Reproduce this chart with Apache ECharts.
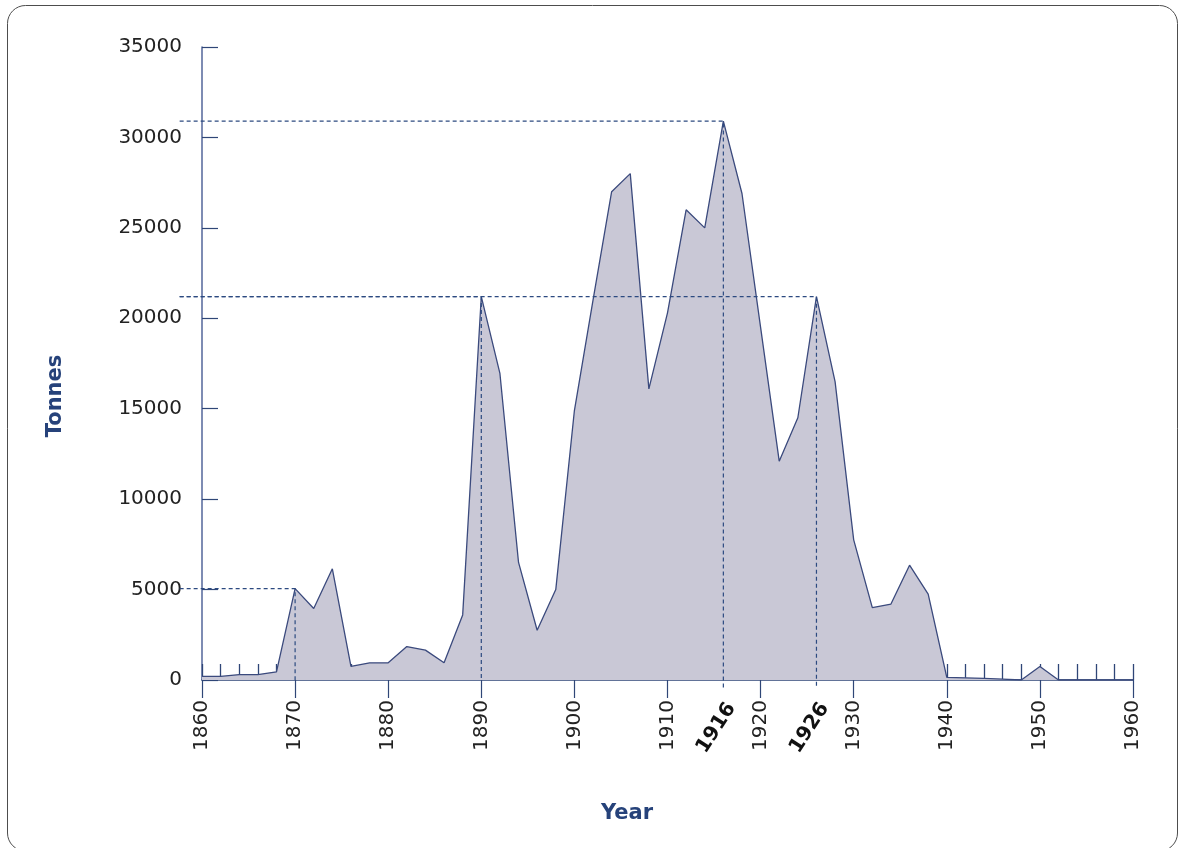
<!DOCTYPE html>
<html>
<head>
<meta charset="utf-8">
<script src="https://cdn.jsdelivr.net/npm/echarts@6/dist/echarts.min.js"></script>
<style>
  html, body { margin: 0; padding: 0; background: #fff; }
  #chart { width: 1179px; height: 848px; }
</style>
</head>
<body>
<div id="chart"></div>
<script>
// production every two years, tonnes
const years = [
  1860, 1862, 1864, 1866, 1868, 1870, 1872, 1874, 1876, 1878,
  1880, 1882, 1884, 1886, 1888, 1890, 1892, 1894, 1896, 1898,
  1900, 1902, 1904, 1906, 1908, 1910, 1912, 1914, 1916, 1918,
  1920, 1922, 1924, 1926, 1928, 1930, 1932, 1934, 1936, 1938,
  1940, 1942, 1944, 1946, 1948, 1950, 1952, 1954, 1956, 1958, 1960
];
const tonnes = [
  200, 200, 300, 300, 450, 5050, 3950, 6150, 750, 950,
  950, 1850, 1650, 950, 3600, 21200, 16950, 6500, 2750, 5000,
  14900, 21000, 27000, 28000, 16100, 20300, 26000, 25000, 30900, 26900,
  19500, 12100, 14500, 21200, 16500, 7750, 4000, 4200, 6350, 4750,
  150, 120, 90, 50, 0, 750, 0, 0, 0, 0, 0
];

// highlighted years (dashed guides), the last two get bold labels
const markYears = [1870, 1890, 1916, 1926];
const markTonnes = [5050, 21200, 30900, 21200];
const boldYears = [1916, 1926];

const yTicks = [0, 5000, 10000, 15000, 20000, 25000, 30000, 35000];

const navy = '#2f4677';
const xMin = 1860, xMax = 1960;
const dashColor = '#2c4a80';

const chart = echarts.init(document.getElementById('chart'));

const option = {
  animation: false,
  grid: { left: 202, right: 46, top: 47, bottom: 168 },
  xAxis: [
    {
      type: 'value', min: xMin, max: xMax, interval: 10, position: 'bottom',
      axisLine: { onZero: false, lineStyle: { color: navy, width: 1.5 } },
      axisTick: { show: true, inside: false, length: 18, lineStyle: { color: navy, width: 1.2 } },
      axisLabel: {
        rotate: 90, margin: 20, fontSize: 20, color: '#222',
        fontFamily: 'DejaVu Sans', formatter: v => String(v)
      },
      splitLine: { show: false }
    },
    {
      type: 'value', min: xMin, max: xMax, interval: 2, position: 'bottom',
      axisLine: { show: false, onZero: false },
      axisTick: { show: true, inside: true, length: 16, lineStyle: { color: navy, width: 1.3 } },
      axisLabel: { show: false },
      splitLine: { show: false }
    }
  ],
  yAxis: {
    type: 'value', min: yTicks[0], max: yTicks[yTicks.length - 1], interval: 5000,
    axisLine: { show: true, lineStyle: { color: '#53669a', width: 1.5 } },
    axisTick: { show: true, inside: true, length: 16, lineStyle: { color: navy, width: 1.2 } },
    axisLabel: {
      margin: 20, fontSize: 20, color: '#222', fontFamily: 'DejaVu Sans',
      formatter: v => String(v)
    },
    splitLine: { show: false }
  },
  series: [
    {
      type: 'line',
      data: years.map((y, i) => [y, tonnes[i]]),
      symbol: 'none',
      lineStyle: { color: '#3b4a7d', width: 1.3 },
      areaStyle: { color: '#c9c8d6', opacity: 1 },
      z: 2
    },
    {
      // dashed guides: from left of the y axis to the peak, then down to the x axis
      type: 'custom',
      data: markYears.map((y, i) => [y, markTonnes[i], boldYears.indexOf(y) >= 0 ? -450 : 0]),
      encode: { x: 0, y: 1 },
      clip: false,
      silent: true,
      z: 3,
      renderItem: (params, api) => {
        const year = api.value(0), t = api.value(1), b = api.value(2);
        const start = api.coord([xMin - 2.4, t]);
        const peak = api.coord([year, t]);
        const foot = api.coord([year, b]);
        const base = api.coord([year, 0]);
        const children = [{
          type: 'polyline',
          shape: { points: [start, peak, foot] },
          style: { stroke: dashColor, lineWidth: 1.2, lineDash: [4, 3], fill: null }
        }];
        if (b < 0) {
          // bold slanted year label under the axis
          children.push({
            type: 'text',
            x: base[0] - 7, y: base[1] + 48,
            rotation: 57 * Math.PI / 180,
            style: {
              text: String(year), fill: '#111',
              font: 'bold 20px "DejaVu Sans"',
              textAlign: 'center', textVerticalAlign: 'middle'
            }
          });
        }
        return { type: 'group', children: children };
      }
    }
  ],
  graphic: [
    {
      type: 'rect',
      shape: { x: 7.5, y: 5.5, width: 1170, height: 845.5, r: 18 },
      style: { fill: 'none', stroke: '#4d4d4d', lineWidth: 1 },
      silent: true
    },
    {
      type: 'text', x: 56, y: 396, rotation: Math.PI / 2,
      style: {
        text: 'Tonnes', fill: '#26427a', textAlign: 'center', textVerticalAlign: 'middle',
        font: 'bold 21px "DejaVu Sans"'
      }
    },
    {
      type: 'text', x: 627, y: 814,
      style: {
        text: 'Year', fill: '#26427a', textAlign: 'center', textVerticalAlign: 'middle',
        font: 'bold 21px "DejaVu Sans"'
      }
    }
  ]
};

chart.setOption(option);
</script>
</body>
</html>
